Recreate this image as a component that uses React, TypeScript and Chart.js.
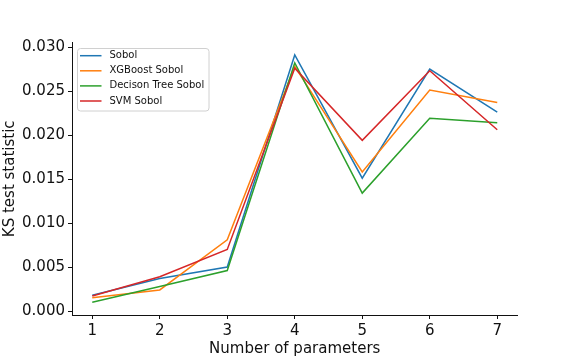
import React, { useEffect, useRef } from "react";
import { Chart, registerables } from "chart.js";

Chart.register(...registerables);

const params = [1, 2, 3, 4, 5, 6, 7];
const sobol = [0.0018, 0.0037, 0.005, 0.0291, 0.0151, 0.0275, 0.0226];
const xgboostSobol = [0.0015, 0.0024, 0.0081, 0.0278, 0.0158, 0.0251, 0.0237];
const decisionTreeSobol = [0.001, 0.0028, 0.0046, 0.0282, 0.0134, 0.0219, 0.0214];
const svmSobol = [0.0017, 0.0039, 0.007, 0.0276, 0.0194, 0.0273, 0.0206];
const yTicks = [0, 0.005, 0.01, 0.015, 0.02, 0.025, 0.03];
const seriesNames = ["Sobol", "XGBoost Sobol", "Decison Tree Sobol", "SVM Sobol"];
const colors = ["#1f77b4", "#ff7f0e", "#2ca02c", "#d62728"];

const FONT = "'DejaVu Sans', sans-serif";
const INK = "#111111";

const legendPlugin = {
  id: "insideLegend",
  afterDraw(chart: any) {
    const ctx = chart.ctx;
    const x0 = 77.5, y0 = 48.5, w = 131.5, h = 62.5, r = 3;
    ctx.save();
    ctx.beginPath();
    ctx.moveTo(x0 + r, y0);
    ctx.lineTo(x0 + w - r, y0);
    ctx.quadraticCurveTo(x0 + w, y0, x0 + w, y0 + r);
    ctx.lineTo(x0 + w, y0 + h - r);
    ctx.quadraticCurveTo(x0 + w, y0 + h, x0 + w - r, y0 + h);
    ctx.lineTo(x0 + r, y0 + h);
    ctx.quadraticCurveTo(x0, y0 + h, x0, y0 + h - r);
    ctx.lineTo(x0, y0 + r);
    ctx.quadraticCurveTo(x0, y0, x0 + r, y0);
    ctx.closePath();
    ctx.fillStyle = "rgba(255,255,255,0.8)";
    ctx.fill();
    ctx.strokeStyle = "#d0d0d0";
    ctx.lineWidth = 1;
    ctx.stroke();
    ctx.font = `10px ${FONT}`;
    ctx.textBaseline = "middle";
    ctx.textAlign = "left";
    chart.data.datasets.forEach((ds: any, i: number) => {
      const cy = 55.7 + i * 15.1;
      ctx.beginPath();
      ctx.moveTo(80, cy);
      ctx.lineTo(101.5, cy);
      ctx.strokeStyle = ds.borderColor;
      ctx.lineWidth = 1.5;
      ctx.stroke();
      ctx.fillStyle = INK;
      ctx.fillText(ds.label, 109.5, cy);
    });
    ctx.restore();
  },
};

export default function App() {
  const ref = useRef<HTMLCanvasElement>(null);
  useEffect(() => {
    document.body.style.margin = "0";
    const seriesData = [sobol, xgboostSobol, decisionTreeSobol, svmSobol];
    const chart = new Chart(ref.current!, {
      type: "line",
      data: {
        datasets: seriesData.map((vals, i) => ({
          label: seriesNames[i],
          data: params.map((p, j) => ({ x: p, y: vals[j] })),
          borderColor: colors[i],
          backgroundColor: colors[i],
          borderWidth: 1.5,
          pointRadius: 0,
          tension: 0,
          fill: false,
          order: 4 - i,
        })),
      },
      options: {
        animation: false,
        responsive: false,
        devicePixelRatio: 1,
        layout: { padding: { left: 0, right: 58.5, top: 42.6, bottom: 0 } },
        plugins: { legend: { display: false }, tooltip: { enabled: false } },
        scales: {
          x: {
            type: "linear",
            min: 0.7,
            max: 7.3,
            afterBuildTicks(scale: any) {
              scale.ticks = params.map((v) => ({ value: v }));
            },
            afterFit(scale: any) {
              scale.height = 45;
            },
            grid: { drawOnChartArea: false, tickLength: 4, color: INK, tickColor: INK },
            border: { display: true, color: INK, width: 1 },
            ticks: { color: INK, font: { size: 15, family: FONT }, padding: 3, maxRotation: 0 },
            title: {
              display: true,
              text: "Number of parameters",
              color: INK,
              font: { size: 15, family: FONT },
              padding: { top: 0, bottom: 2 },
            },
          },
          y: {
            type: "linear",
            min: -0.00045,
            max: 0.0305,
            afterBuildTicks(scale: any) {
              scale.ticks = yTicks.map((v) => ({ value: v }));
            },
            afterFit(scale: any) {
              scale.width = 72;
            },
            grid: { drawOnChartArea: false, tickLength: 4, color: INK, tickColor: INK },
            border: { display: true, color: INK, width: 1 },
            ticks: {
              color: INK,
              font: { size: 15, family: FONT },
              padding: 3,
              callback: (v: any) => Number(v).toFixed(3),
            },
            title: {
              display: true,
              text: "KS test statistic",
              color: INK,
              font: { size: 15, family: FONT },
              padding: { top: 1, bottom: 0 },
            },
          },
        },
      },
      plugins: [legendPlugin],
    });
    return () => chart.destroy();
  }, []);
  return (
    <div style={{ width: 576, height: 360 }}>
      <canvas ref={ref} width={576} height={360} style={{ display: "block" }} />
    </div>
  );
}
